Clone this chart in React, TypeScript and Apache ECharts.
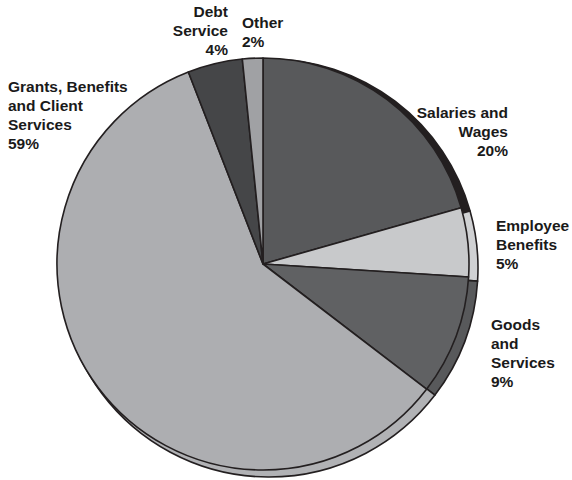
import React, { useEffect, useRef } from "react";
import * as echarts from "echarts";

// Data
const categories = [
  "Salaries and\nWages",
  "Employee\nBenefits",
  "Goods\nand\nServices",
  "Grants, Benefits\nand Client\nServices",
  "Debt\nService",
  "Other",
];
const sliceValues = [20.6, 5.4, 9.4, 58.7, 4.3, 1.6];
const percentLabels = [20, 5, 9, 59, 4, 2];

// Styles
const topColors = ["#58595b", "#c8c9cb", "#606163", "#adaeb1", "#454648", "#a0a1a4"];
const sideColors = ["#231f20", "#d0d1d3", "#58595b", "#b1b2b5", "#3a3b3d", "#98999c"];
const labelLayout: { x: number; y: number; align: "left" | "right" }[] = [
  { x: 508, y: 103, align: "right" },
  { x: 496, y: 216, align: "left" },
  { x: 491, y: 315, align: "left" },
  { x: 8, y: 77, align: "left" },
  { x: 228, y: 2, align: "right" },
  { x: 242, y: 13, align: "left" },
];

export default function App() {
  const ref = useRef<HTMLDivElement>(null);
  useEffect(() => {
    if (!ref.current) return;
    const chart = echarts.init(ref.current, undefined, { renderer: "svg" });
    const border = { borderColor: "#231f20", borderWidth: 1.6 };
    chart.setOption({
      animation: false,
      backgroundColor: "#ffffff",
      series: [
        {
          type: "pie",
          silent: true,
          z: 1,
          center: [269, 268],
          radius: 209,
          startAngle: 90,
          clockwise: true,
          label: { show: false },
          labelLine: { show: false },
          data: categories.map((c, i) => ({
            name: c,
            value: sliceValues[i],
            itemStyle: { color: sideColors[i], ...border },
          })),
        },
        {
          type: "pie",
          silent: true,
          z: 2,
          center: [263, 264],
          radius: 206,
          startAngle: 90,
          clockwise: true,
          label: { show: false },
          labelLine: { show: false },
          data: categories.map((c, i) => ({
            name: c,
            value: sliceValues[i],
            itemStyle: { color: topColors[i], ...border },
          })),
        },
      ],
      graphic: categories.map((c, i) => ({
        type: "text",
        x: labelLayout[i].x,
        y: labelLayout[i].y,
        z: 10,
        style: {
          text: `${c}\n${percentLabels[i]}%`,
          font: 'bold 15.5px "Liberation Sans", Arial, sans-serif',
          fill: "#1a1a1a",
          lineHeight: 19,
          align: labelLayout[i].align,
          verticalAlign: "top",
        },
      })),
    });
    return () => chart.dispose();
  }, []);
  return (
    <div
      ref={ref}
      style={{ position: "absolute", left: 0, top: 0, width: 572, height: 480 }}
    />
  );
}
